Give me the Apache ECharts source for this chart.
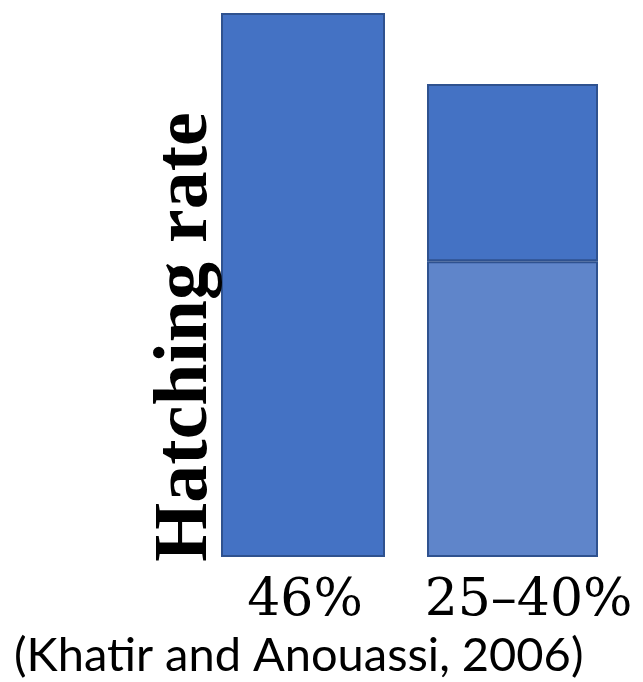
<!DOCTYPE html>
<html>
<head>
<meta charset="utf-8">
<script src="https://cdn.jsdelivr.net/npm/echarts@6/dist/echarts.min.js"></script>
<style>
  html, body { margin: 0; padding: 0; background: #fff; }
  #chart { width: 643px; height: 682px; }
</style>
</head>
<body>
<div id="chart"></div>
<script>
// Hatching rate: single value vs. reported range
const categories = ['46%', '25–40%'];
const singleRate = [46, '-'];        // one reported rate
const rangeLow = ['-', 25];          // lower bound of the range
const rangeSpan = ['-', 15];         // 25 -> 40, stacked on the lower bound
const axisTitle = 'Hatching rate';
const sourceNote = '(Khatir and Anouassi, 2006)';

const dark = '#4472C4';
const light = '#5F85CA';
const edge = '#2F528F';

const chart = echarts.init(document.getElementById('chart'));
chart.setOption({
  backgroundColor: '#ffffff',
  animation: false,
  grid: { left: 203.5, right: 27.5, top: 13, bottom: 125 },
  xAxis: {
    type: 'category',
    data: categories,
    axisLine: { show: false },
    axisTick: { show: false },
    axisLabel: {
      interval: 0,
      hideOverlap: false,
      margin: 18,
      color: '#000',
      fontFamily: 'DejaVu Serif',
      fontSize: 52,
      formatter: (v, i) => i === 0 ? '{a|' + v + '}' : '{b|' + v + '}',
      rich: {
        a: { fontFamily: 'DejaVu Serif', fontSize: 52, color: '#000', padding: [0, 3, 0, 0] },
        b: { fontFamily: 'DejaVu Serif', fontSize: 52, color: '#000', padding: [0, 0, 0, 32] }
      }
    }
  },
  yAxis: {
    type: 'value',
    min: 0,
    max: 46,
    show: false,
    splitLine: { show: false }
  },
  graphic: [{
    type: 'text',
    x: 186,
    y: 337,
    rotation: Math.PI / 2,
    style: {
      text: axisTitle,
      fontFamily: 'Liberation Serif',
      fontWeight: 'bold',
      fontSize: 76,
      fill: '#000',
      align: 'center',
      verticalAlign: 'middle'
    },
    z: 10
  }, {
    type: 'text',
    left: 14,
    top: 632,
    style: {
      text: sourceNote,
      fontFamily: 'Lato',
      fontSize: 47,
      fill: '#000'
    }
  }],
  series: [{
    type: 'bar',
    stack: 'single',
    barWidth: 164,
    barGap: '-100%',
    data: singleRate,
    itemStyle: { color: dark, borderColor: edge, borderWidth: 2 }
  }, {
    type: 'bar',
    stack: 'range',
    barWidth: 171,
    barGap: '-100%',
    data: rangeLow,
    itemStyle: { color: light, borderColor: edge, borderWidth: 2 }
  }, {
    type: 'bar',
    stack: 'range',
    barWidth: 171,
    barGap: '-100%',
    data: rangeSpan,
    itemStyle: { color: dark, borderColor: edge, borderWidth: 2 }
  }]
});
</script>
</body>
</html>
